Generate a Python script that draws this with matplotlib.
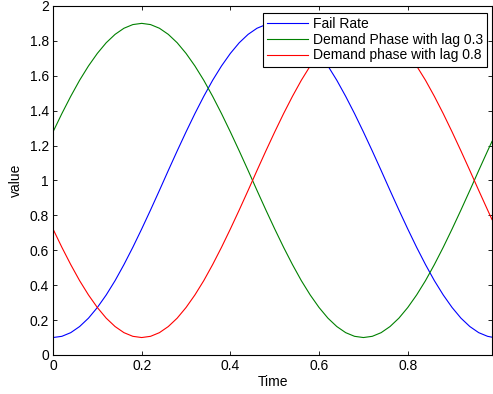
import matplotlib
matplotlib.use('Agg')
import matplotlib.pyplot as plt
from matplotlib.ticker import FuncFormatter

# values (time step 0.02, last point 0.99)
time = [0.00, 0.02, 0.04, 0.06, 0.08, 0.10, 0.12, 0.14, 0.16, 0.18,
        0.20, 0.22, 0.24, 0.26, 0.28, 0.30, 0.32, 0.34, 0.36, 0.38,
        0.40, 0.42, 0.44, 0.46, 0.48, 0.50, 0.52, 0.54, 0.56, 0.58,
        0.60, 0.62, 0.64, 0.66, 0.68, 0.70, 0.72, 0.74, 0.76, 0.78,
        0.80, 0.82, 0.84, 0.86, 0.88, 0.90, 0.92, 0.94, 0.96, 0.98, 0.99]

fail_rate = [0.100, 0.107, 0.128, 0.163, 0.211, 0.272, 0.344, 0.426, 0.518, 0.617,
             0.722, 0.831, 0.943, 1.057, 1.169, 1.278, 1.383, 1.482, 1.574, 1.656,
             1.728, 1.789, 1.837, 1.872, 1.893, 1.900, 1.893, 1.872, 1.837, 1.789,
             1.728, 1.656, 1.574, 1.482, 1.383, 1.278, 1.169, 1.057, 0.943, 0.831,
             0.722, 0.617, 0.518, 0.426, 0.344, 0.272, 0.211, 0.163, 0.128, 0.107, 0.102]

demand_03 = [1.278, 1.383, 1.482, 1.574, 1.656, 1.728, 1.789, 1.837, 1.872, 1.893,
             1.900, 1.893, 1.872, 1.837, 1.789, 1.728, 1.656, 1.574, 1.482, 1.383,
             1.278, 1.169, 1.057, 0.943, 0.831, 0.722, 0.617, 0.518, 0.426, 0.344,
             0.272, 0.211, 0.163, 0.128, 0.107, 0.100, 0.107, 0.128, 0.163, 0.211,
             0.272, 0.344, 0.426, 0.518, 0.617, 0.722, 0.831, 0.943, 1.057, 1.169, 1.224]

demand_08 = [0.722, 0.617, 0.518, 0.426, 0.344, 0.272, 0.211, 0.163, 0.128, 0.107,
             0.100, 0.107, 0.128, 0.163, 0.211, 0.272, 0.344, 0.426, 0.518, 0.617,
             0.722, 0.831, 0.943, 1.057, 1.169, 1.278, 1.383, 1.482, 1.574, 1.656,
             1.728, 1.789, 1.837, 1.872, 1.893, 1.900, 1.893, 1.872, 1.837, 1.789,
             1.728, 1.656, 1.574, 1.482, 1.383, 1.278, 1.169, 1.057, 0.943, 0.831, 0.776]

plt.rcParams['font.family'] = ['Liberation Sans', 'DejaVu Sans']
plt.rcParams['font.size'] = 10

fig = plt.figure(figsize=(4.93, 3.94), dpi=100)
ax = fig.add_axes([0.1075, 0.099, 0.8905, 0.886])

ax.plot(time, fail_rate, color=(0, 0, 1), lw=0.8, label='Fail Rate')
ax.plot(time, demand_03, color=(0, 0.5, 0), lw=0.8, label='Demand Phase with lag 0.3')
ax.plot(time, demand_08, color=(1, 0, 0), lw=0.8, label='Demand phase with lag 0.8')

ax.set_xlim(0, 0.99)
ax.set_ylim(0, 2)
ax.set_xticks([0, 0.2, 0.4, 0.6, 0.8])
ax.set_yticks([0, 0.2, 0.4, 0.6, 0.8, 1, 1.2, 1.4, 1.6, 1.8, 2])
ax.xaxis.set_major_formatter(FuncFormatter(lambda v, p: '%g' % round(v, 2)))
ax.yaxis.set_major_formatter(FuncFormatter(lambda v, p: '%g' % round(v, 2)))
ax.tick_params(direction='in', top=True, right=True, length=3, width=0.6, pad=3)
for s in ax.spines.values():
    s.set_linewidth(0.8)

ax.set_xlabel('Time', labelpad=1)
ax.set_ylabel('value', labelpad=5)

leg = ax.legend(loc='upper right', bbox_to_anchor=(0.9895, 0.98), fancybox=False,
                framealpha=1, edgecolor='black', handlelength=2.9, handletextpad=0.4,
                borderpad=0.3, labelspacing=0.12, borderaxespad=0)
leg.get_frame().set_linewidth(0.8)

fig.savefig('out.png', dpi=100)
